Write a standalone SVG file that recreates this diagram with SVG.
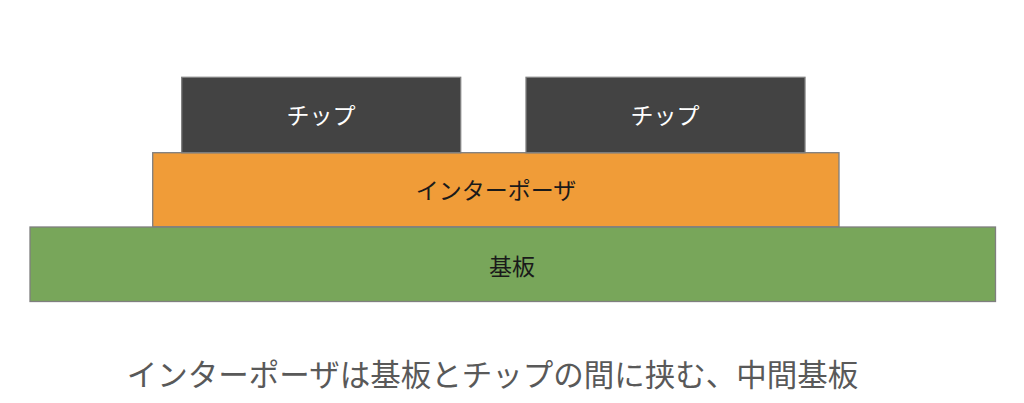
<svg xmlns="http://www.w3.org/2000/svg" width="1024" height="403" viewBox="0 0 1024 403">
<style>
.box{stroke:#7f7f7f;stroke-width:1.3}
.lbl{font-family:"Noto Sans CJK JP","Noto Sans",sans-serif;font-size:23px;text-anchor:middle;dominant-baseline:central}
</style>
<rect width="1024" height="403" fill="#ffffff"/>
<g id="substrate">
<rect class="box" x="30" y="227" width="965.5" height="74.5" fill="#78a65a"/>
<text class="lbl" x="512" y="265" fill="#1a1a1a">基板</text>
</g>
<g id="interposer">
<rect class="box" x="152.7" y="152.7" width="686.3" height="74" fill="#f09c38"/>
<text class="lbl" x="496" y="189" fill="#1a1a1a">インターポーザ</text>
</g>
<g id="chip1">
<rect class="box" x="181.7" y="77.3" width="279" height="75.4" fill="#434343"/>
<text class="lbl" x="321" y="114" fill="#ffffff">チップ</text>
</g>
<g id="chip2">
<rect class="box" x="526" y="77.3" width="279" height="75.4" fill="#434343"/>
<text class="lbl" x="665" y="114" fill="#ffffff">チップ</text>
</g>
<g id="connectors"/>
<text x="492.5" y="373" font-family="Noto Sans CJK JP,Noto Sans,sans-serif" font-size="30.5" fill="#595959" text-anchor="middle" dominant-baseline="central">インターポーザは基板とチップの間に挟む、中間基板</text>
</svg>
